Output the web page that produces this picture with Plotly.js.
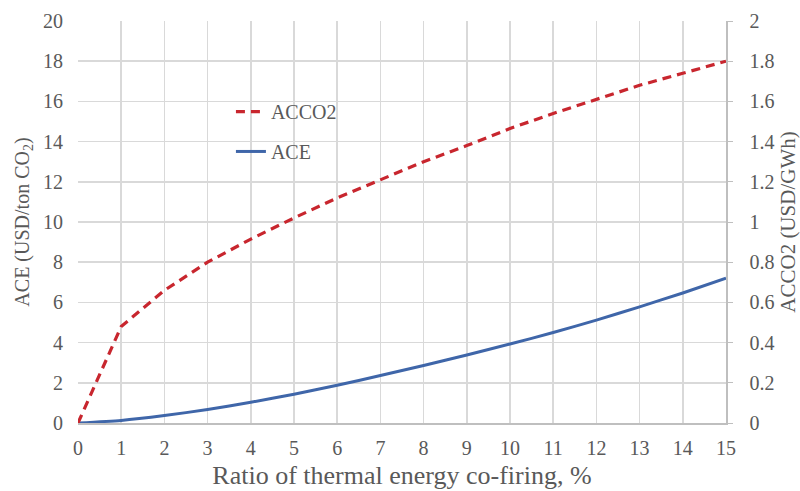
<!DOCTYPE html>
<html>
<head>
<meta charset="utf-8">
<script src="https://cdn.plot.ly/plotly-3.0.1.min.js"></script>
<style>html,body{margin:0;padding:0;background:#fff;}#chart{width:800px;height:491px;}</style>
</head>
<body>
<div id="chart"></div>
<script>
const ratio = [0,1,2,3,4,5,6,7,8,9,10,11,12,13,14,15];
const acco2 = [0,0.48,0.66,0.80,0.915,1.02,1.12,1.21,1.30,1.38,1.465,1.54,1.61,1.68,1.74,1.80];
const ace = [0,0.13,0.37,0.67,1.03,1.43,1.88,2.36,2.86,3.38,3.93,4.50,5.12,5.78,6.47,7.20];
const xTicks = [0,1,2,3,4,5,6,7,8,9,10,11,12,13,14,15];

const txt = '#595959';
const grid = '#d9d9d9';
const fontFam = 'Liberation Serif';

const traces = [
  {x: ratio, y: acco2, name: 'ACCO2', yaxis: 'y2', mode: 'lines', legend: 'legend',
   line: {color: '#c8262e', width: 3.2, dash: '9px,6px'}},
  {x: ratio, y: ace, name: 'ACE', yaxis: 'y', mode: 'lines', legend: 'legend2',
   line: {color: '#3f66a9', width: 3, shape: 'spline', smoothing: 0.6}}
];

const legStyle = (y) => ({x: 0.236, y: y, xanchor: 'left', yanchor: 'top',
    bgcolor: 'rgba(0,0,0,0)', font: {family: fontFam, size: 20, color: txt}});

const layout = {
  width: 800, height: 491,
  margin: {l: 78, r: 74, t: 21, b: 68},
  paper_bgcolor: '#ffffff', plot_bgcolor: '#ffffff',
  font: {family: fontFam, color: txt, size: 19},
  showlegend: true,
  legend: legStyle(0.823),
  legend2: legStyle(0.724),
  xaxis: {range: [0, 15], tickvals: xTicks, ticktext: xTicks.map(String),
    showgrid: true, gridcolor: grid, gridwidth: 1.5, zeroline: false,
    showline: true, linecolor: '#bfbfbf', linewidth: 1.5,
    ticks: '', ticklabelstandoff: 6,
    tickfont: {family: fontFam, size: 20, color: txt},
    title: {text: 'Ratio of thermal energy co-firing, %', font: {family: fontFam, size: 26, color: txt}, standoff: 8}},
  yaxis: {range: [0, 20], dtick: 2, showgrid: true, gridcolor: grid, gridwidth: 1.5,
    zeroline: false, showline: false, ticks: '', ticklabelstandoff: 14,
    tickfont: {family: fontFam, size: 20, color: txt},
    title: {text: 'ACE (USD/ton CO<sub>2</sub>)', font: {family: fontFam, size: 20, color: txt}, standoff: 8}},
  yaxis2: {range: [0, 2], dtick: 0.2, overlaying: 'y', side: 'right', showgrid: false,
    zeroline: false, showline: true, linecolor: '#bfbfbf', linewidth: 1.5,
    ticks: 'outside', ticklen: 5, tickcolor: '#bfbfbf', ticklabelstandoff: 13,
    tickfont: {family: fontFam, size: 20, color: txt},
    title: {text: 'ACCO2 (USD/GWh)', font: {family: fontFam, size: 21, color: txt}, standoff: 8}}
};

Plotly.newPlot('chart', traces, layout, {displayModeBar: false, staticPlot: true});
</script>
</body>
</html>
